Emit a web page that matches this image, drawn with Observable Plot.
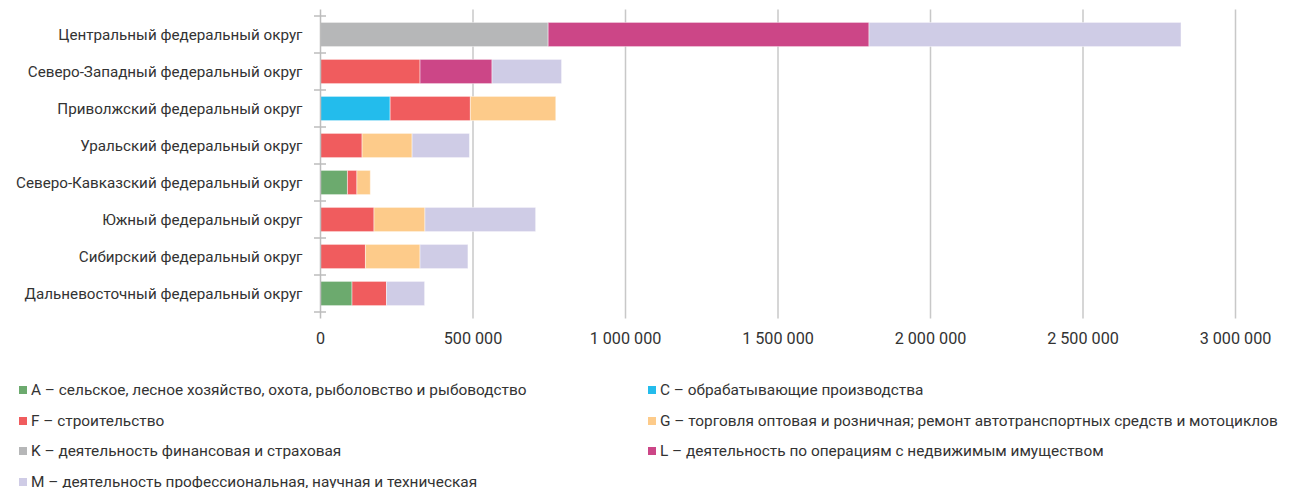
<!DOCTYPE html>
<html>
<head>
<meta charset="utf-8">
<script src="https://cdn.jsdelivr.net/npm/d3@7"></script>
<script src="https://cdn.jsdelivr.net/npm/@observablehq/plot@0.6"></script>
<style>
  body { margin: 0; background: #fff; }
  #wrap { position: relative; width: 1301px; height: 488px; font-family: "Roboto", sans-serif; color: #333; }
  #legend .item { position: absolute; font-size: 15.4px; line-height: 18px; white-space: nowrap; display: flex; align-items: center; }
  #legend .sw { width: 8px; height: 8px; margin-right: 4px; display: inline-block; }
</style>
</head>
<body>
<div id="wrap"><div id="chart"></div><div id="legend"></div></div>
<script>
const regions = [
  "Центральный федеральный округ",
  "Северо-Западный федеральный округ",
  "Приволжский федеральный округ",
  "Уральский федеральный округ",
  "Северо-Кавказский федеральный округ",
  "Южный федеральный округ",
  "Сибирский федеральный округ",
  "Дальневосточный федеральный округ"
];
const seriesKeys = ["A", "C", "F", "G", "K", "L", "M"];
const seriesLabels = [
  "A – сельское, лесное хозяйство, охота, рыболовство и рыбоводство",
  "C – обрабатывающие производства",
  "F – строительство",
  "G – торговля оптовая и розничная; ремонт автотранспортных средств и мотоциклов",
  "K – деятельность финансовая и страховая",
  "L – деятельность по операциям с недвижимым имуществом",
  "M – деятельность профессиональная, научная и техническая"
];
const seriesColors = ["#6caa6e", "#23bcec", "#f05c5e", "#fdcb8a", "#b6b7b8", "#cc4687", "#cfcce6"];
const valuesA = [0, 0, 0, 0, 90000, 0, 0, 105000];
const valuesC = [0, 0, 230000, 0, 0, 0, 0, 0];
const valuesF = [0, 328000, 263000, 138000, 31000, 177000, 149000, 113000];
const valuesG = [0, 0, 280000, 164000, 44000, 167000, 179000, 0];
const valuesK = [748000, 0, 0, 0, 0, 0, 0, 0];
const valuesL = [1052000, 236000, 0, 0, 0, 0, 0, 0];
const valuesM = [1023000, 228000, 0, 188000, 0, 363000, 157000, 125000];
const xTicks = [0, 500000, 1000000, 1500000, 2000000, 2500000, 3000000];

const seriesValues = [valuesA, valuesC, valuesF, valuesG, valuesK, valuesL, valuesM];
const rows = [];
regions.forEach((r, i) => {
  seriesKeys.forEach((k, j) => {
    const v = seriesValues[j][i];
    if (v > 0) rows.push({region: r, key: k, value: v});
  });
});

const fmt = d => d3.format(",")(d).replace(/,/g, " ");

const plot = Plot.plot({
  width: 1301,
  height: 362,
  marginLeft: 320,
  marginRight: 66,
  marginTop: 12.6,
  marginBottom: 46.6,
  style: {fontFamily: "Roboto, sans-serif", fontSize: "15px", color: "#333", background: "#fff"},
  x: {domain: [0, 3000000], label: null},
  y: {domain: regions, padding: 0, label: null},
  color: {domain: seriesKeys, range: seriesColors},
  marks: [
    Plot.ruleX(xTicks.slice(1), {stroke: "#c8c8c8", strokeWidth: 1.5, insetTop: -3, insetBottom: -3}),
    Plot.barX(rows, Plot.stackX({y: "region", x: "value", fill: "key", insetTop: 6.4, insetBottom: 6.4, stroke: "#ffffff", strokeOpacity: 0.45, strokeWidth: 1})),
    Plot.ruleX([0], {stroke: "#bdbdbd", strokeWidth: 1.5, insetTop: -3, insetBottom: -3}),
    Plot.axisY({tickSize: 0, tickPadding: 18, fontSize: 15.2}),
    Plot.axisX({ticks: xTicks, tickFormat: fmt, tickSize: 0, tickPadding: 17, fontSize: 16.2, label: null})
  ]
});

// Band-boundary tick marks on the category axis, positioned via the plot's y scale
const ys = plot.scale("y");
const xs = plot.scale("x");
const x0 = xs.apply(0);
const bw = ys.bandwidth;
const bounds = regions.map(r => ys.apply(r)).concat([ys.apply(regions[regions.length - 1]) + bw]);
const svg = d3.select(plot);
svg.append("g").selectAll("line").data(bounds).join("line")
  .attr("x1", x0 - 6).attr("x2", x0 + 6)
  .attr("y1", d => d).attr("y2", d => d)
  .attr("stroke", "#bdbdbd").attr("stroke-width", 1.5);

document.getElementById("chart").appendChild(plot);

const legend = document.getElementById("legend");
seriesLabels.forEach((lab, i) => {
  const col = i % 2, row = Math.floor(i / 2);
  const div = document.createElement("div");
  div.className = "item";
  div.style.left = (col ? 648 : 19) + "px";
  div.style.top = (381 + row * 30.5) + "px";
  const sw = document.createElement("span");
  sw.className = "sw";
  sw.style.background = seriesColors[i];
  div.appendChild(sw);
  div.appendChild(document.createTextNode(lab));
  legend.appendChild(div);
});
</script>
</body>
</html>
